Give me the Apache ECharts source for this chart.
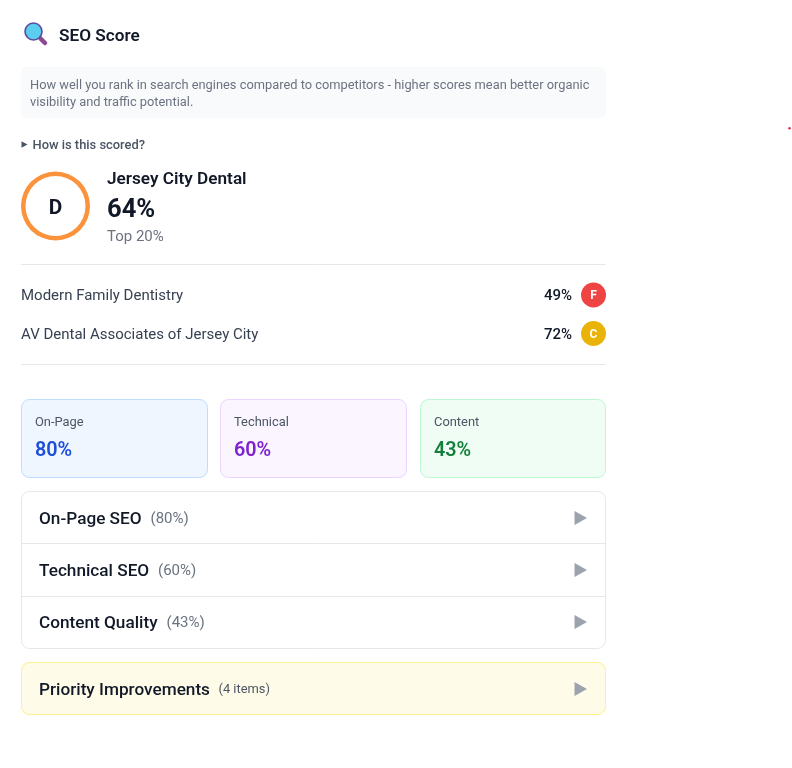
<!DOCTYPE html>
<html>
<head>
<meta charset="utf-8">
<title>SEO Score</title>
<script src="https://cdn.jsdelivr.net/npm/echarts@6/dist/echarts.min.js"></script>
<style>
html, body { margin: 0; padding: 0; background: #fff; }
#main { width: 792px; height: 768px; }
</style>
</head>
<body>
<div id="main"></div>
<script>
// data
var title = 'SEO Score';
var descLines = [
    'How well you rank in search engines compared to competitors - higher scores mean better organic',
    'visibility and traffic potential.'
];
var hint = 'How is this scored?';
var business = 'Jersey City Dental';
var businessScore = 64;
var businessGrade = 'D';
var businessRank = 'Top 20%';
var competitors = ['Modern Family Dentistry', 'AV Dental Associates of Jersey City'];
var competitorScores = [49, 72];
var competitorGrades = ['F', 'C'];
var cardLabels = ['On-Page', 'Technical', 'Content'];
var cardScores = [80, 60, 43];
var sectionLabels = ['On-Page SEO', 'Technical SEO', 'Content Quality'];
var sectionScores = [80, 60, 43];
var priorityLabel = 'Priority Improvements';
var priorityCount = 4;

var chart = echarts.init(document.getElementById('main'), null, { renderer: 'canvas' });
var font = 'Roboto';
var els = [];

function text(x, y, str, size, weight, color, align) {
    els.push({
        type: 'text', silent: true, x: x, y: y,
        style: {
            text: str, fontFamily: font, fontSize: size, fontWeight: weight, fill: color,
            align: align || 'left', verticalAlign: 'middle'
        }
    });
}
function box(x, y, w, h, r, fill, stroke) {
    els.push({
        type: 'rect', silent: true,
        shape: { x: x, y: y, width: w, height: h, r: r },
        style: { fill: fill, stroke: stroke || null, lineWidth: 1 }
    });
}
function hline(x1, x2, y) {
    els.push({
        type: 'line', silent: true,
        shape: { x1: x1, y1: y, x2: x2, y2: y },
        style: { stroke: '#e5e7eb', lineWidth: 1 }
    });
}
function arrow(x, y, w, h, color) {
    els.push({
        type: 'polygon', silent: true,
        shape: { points: [[x, y - h / 2], [x + w, y], [x, y + h / 2]] },
        style: { fill: color }
    });
}
function dot(x, y, r, fill, stroke, lw) {
    els.push({
        type: 'circle', silent: true,
        shape: { cx: x, cy: y, r: r },
        style: { fill: fill, stroke: stroke || null, lineWidth: lw || 0 }
    });
}

// header + magnifier icon
els.push({
    type: 'line', silent: true,
    shape: { x1: 40.5, y1: 38.5, x2: 45, y2: 43 },
    style: { stroke: '#8b4a8f', lineWidth: 4.5, lineCap: 'round' }
});
dot(33.5, 31.5, 8.5, '#5bcdf0', '#5e4a9c', 1.6);
text(59, 37, title, 17.2, 600, '#111827');

box(21, 67, 585, 51, 6, '#f9fafb');
text(30, 85.5, descLines[0], 12.85, 400, '#6b7280');
text(30, 102.5, descLines[1], 12.85, 400, '#6b7280');

arrow(21.5, 144.5, 6, 6.5, '#4b5563');
text(32.5, 146, hint, 12.9, 500, '#4b5563');

// grade ring
text(55.5, 209, businessGrade, 20.8, 700, '#111827', 'center');
text(107, 179.5, business, 17.2, 600, '#111827');
text(107, 210.5, businessScore + '%', 25.6, 700, '#111827');
text(107, 237, businessRank, 15, 400, '#6b7280');

hline(21, 606, 264.5);
hline(21, 606, 364.5);

// competitor rows
var rowY = [295, 333.5];
var rowTextY = [296, 335];
var gradeColors = { F: '#ef4444', C: '#eab308' };
competitors.forEach(function (name, i) {
    text(21, rowTextY[i], name, 15, 400, '#374151');
    text(572, rowTextY[i], competitorScores[i] + '%', 15, 500, '#111827', 'right');
    dot(593.5, rowY[i], 12.5, gradeColors[competitorGrades[i]]);
    text(593.5, rowY[i] + 1, competitorGrades[i], 12, 700, '#ffffff', 'center');
});

// score cards
var cardX = [21.5, 220.5, 420.5];
var cardW = [186, 186, 185];
var cardFill = ['#eff6ff', '#faf5ff', '#f0fdf4'];
var cardLine = ['#bfdbfe', '#e9d5ff', '#bbf7d0'];
var cardText = ['#1d4ed8', '#7e22ce', '#15803d'];
cardLabels.forEach(function (label, i) {
    box(cardX[i], 399.5, cardW[i], 78, 8, cardFill[i], cardLine[i]);
    text(cardX[i] + 13.5, 423, label, 12.9, 400, '#4b5563');
    text(cardX[i] + 13.5, 451.5, cardScores[i] + '%', 19.8, 600, cardText[i]);
});

// accordion
box(21.5, 491.5, 584, 157, 8, '#ffffff', '#e5e7eb');
hline(22, 605, 543.5);
hline(22, 605, 596.5);
var sectionY = [518, 570, 622];
var sectionSubX = [150.5, 158, 166.5];
sectionLabels.forEach(function (label, i) {
    text(39, sectionY[i] + 1.5, label, 17.2, 500, '#111827');
    text(sectionSubX[i], sectionY[i] + 1, '(' + sectionScores[i] + '%)', 15, 400, '#6b7280');
    arrow(574.5, sectionY[i], 12.5, 14, '#9ca3af');
});

box(21.5, 662.5, 584, 52, 8, '#fefce8', '#fef08a');
text(39, 690.5, priorityLabel, 17.2, 500, '#111827');
text(218.5, 690, '(' + priorityCount + ' items)', 12.9, 400, '#4b5563');
arrow(574.5, 689, 12.5, 14, '#9ca3af');

// stray red speck at the right edge
dot(789.5, 128.2, 1.2, '#ef1c2e');

var option = {
    animation: false,
    backgroundColor: '#ffffff',
    tooltip: { show: false },
    series: [
        {
            type: 'pie',
            silent: true,
            center: [55.5, 206],
            radius: [30, 34.5],
            label: { show: false },
            labelLine: { show: false },
            itemStyle: { color: '#fb923c' },
            data: [{ value: businessScore, name: business }]
        }
    ],
    graphic: { elements: els }
};
chart.setOption(option);
</script>
</body>
</html>
